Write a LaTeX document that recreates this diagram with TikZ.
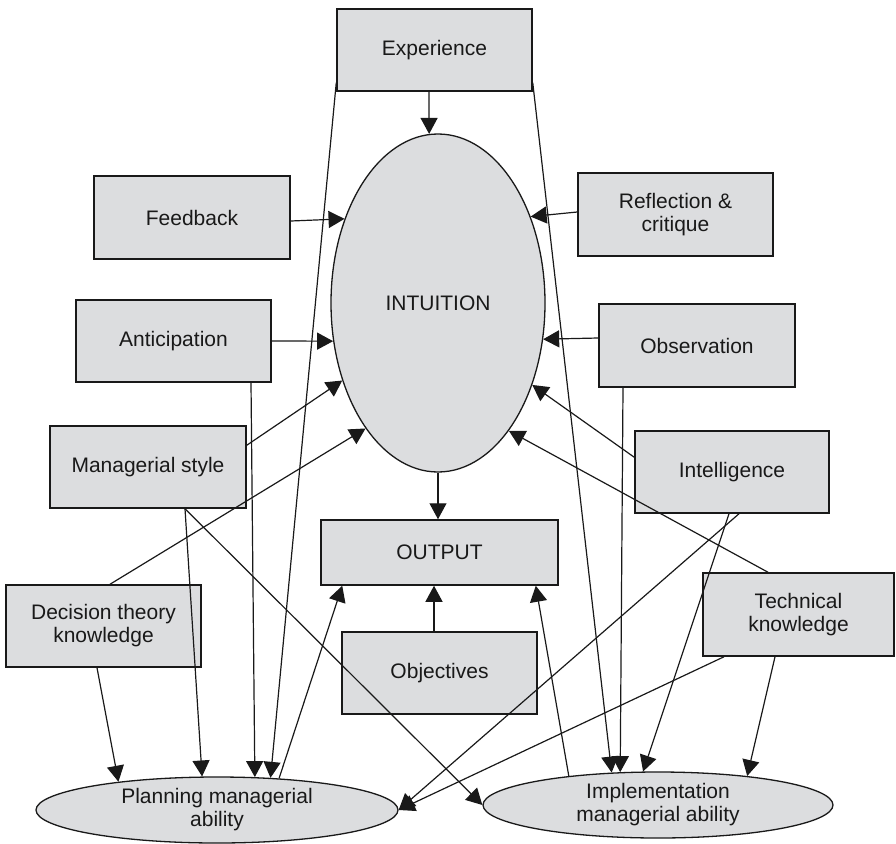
\documentclass[tikz,border=0pt]{standalone}
\usepackage{fontspec}
\setmainfont{Liberation Sans}
\usetikzlibrary{arrows.meta,shapes.geometric,calc}
\definecolor{boxfill}{RGB}{220,221,223}
\definecolor{ink}{RGB}{25,25,25}
\begin{document}
\begin{tikzpicture}[x=1pt,y=-1pt,
  every node/.style={font=\fontsize{21}{23}\selectfont, text=ink, align=center},
  factor/.style={draw=ink, line width=1.5pt, fill=boxfill, rectangle, inner sep=0pt,
                 minimum width=195pt, minimum height=82pt},
  oval/.style={draw=ink, line width=1.3pt, fill=boxfill, ellipse, inner sep=0pt},
  link/.style={draw=ink, line width=1.2pt, -{Triangle[length=16pt,width=17pt]}},
  plain/.style={draw=ink, line width=1.2pt}]
\useasboundingbox (0,0) rectangle (896,843);

% central node
\node[oval, minimum width=214pt, minimum height=338pt] (intu) at (438,303) {INTUITION};

% influencing factors
\node[factor] (exp)  at (434.5,50)   {Experience};
\node[factor, minimum width=196pt, minimum height=83pt] (fb) at (192,217.5) {Feedback};
\node[factor, minimum height=83pt] (refl) at (675.5,214.5) {Reflection \&\\critique};
\node[factor] (ant)  at (173.5,341)  {Anticipation};
\node[factor, minimum width=196pt, minimum height=83pt] (obs) at (697,345.5) {Observation};
\node[factor, minimum width=196pt] (ms) at (148,467) {Managerial style};
\node[factor, minimum width=194pt] (intl) at (732,472) {Intelligence};
\node[factor, minimum width=237pt, minimum height=65pt] (out) at (439.5,552.5) {OUTPUT};
\node[factor] (dt)   at (103.5,626)  {Decision theory\\knowledge};
\node[factor, minimum width=191pt, minimum height=83pt] (tk) at (798.5,614.5) {Technical\\knowledge};
\node[factor] (obj)  at (439.5,673)  {Objectives};

% abilities
\node[oval, minimum width=362pt, minimum height=66pt] (pl) at (217,810) {Planning managerial\\ability};
\node[oval, minimum width=350pt, minimum height=66pt] (im) at (658,805) {Implementation\\managerial ability};

% arrows into intuition
\draw[link] ($(exp.south)+(-5.5,0)$) -- (intu.93);
\draw[link] ($(fb.east)+(0,3.5)$) -- (intu.138.8);
\draw[link] ($(refl.west)+(0,-2.5)$) -- (intu.43.9);
\draw[link] (ant.east) -- (intu.200);
\draw[link] ($(obs.west)+(0,-7.5)$) -- (intu.341);
\draw[link] ($(ms.north east)+(0,20)$) -- (intu.219.9);
\draw[link] ($(dt.north)+(6.5,0)$) -- (intu.240.9);
\draw[link] ($(intl.north west)+(0,27)$) -- (intu.319.7);
\draw[link] ($(tk.north)+(-30.5,0)$) -- (intu.299.1);

% arrows into output
\draw[link] (intu.south) -- (intu.south |- out.north);
\draw[link] ($(obj.north)+(-5.5,0)$) -- ($(out.south)+(-5.5,0)$);
\draw[link] (pl.27.4) -- ($(out.south west)+(22,0)$);
\draw[link] (im.162.3) -- ($(out.south east)+(-23,0)$);

% arrows into planning managerial ability
\draw[link] ($(exp.south west)+(0,-9)$) -- (pl.31.3);
\draw[link] ($(ant.south)+(77.5,0)$) -- (pl.41.9);
\draw[link] ($(ms.south)+(37,0)$) -- (pl.114.5);
\draw[link] ($(dt.south)+(-6.5,0)$) -- (pl.164.8);
\draw[link] ($(intl.south)+(7,0)$) -- (pl.east);
\draw[link] ($(tk.south)+(-74.5,0)$) -- (pl.east);

% arrows into implementation managerial ability
\draw[link] ($(exp.south east)+(0,-9)$) -- (im.145.3);
\draw[link] ($(obs.south)+(-74,0)$) -- (im.139.7);
\draw[link] ($(intl.south)+(-3,0)$) -- (im.114.5);
\draw[link] ($(tk.south)+(-23.5,0)$) -- (im.18.7);
\draw[link] ($(ms.south)+(37,0)$) -- (im.west);
\end{tikzpicture}
\end{document}
